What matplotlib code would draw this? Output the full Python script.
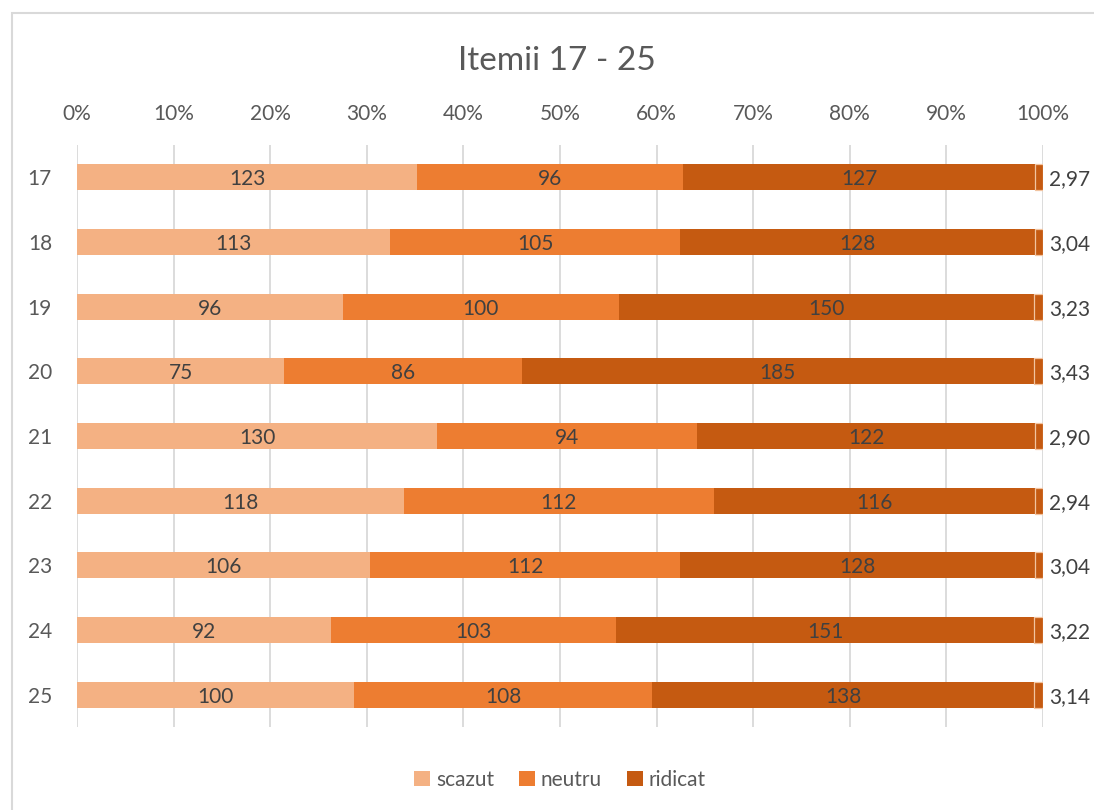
import matplotlib
matplotlib.use("Agg")
import matplotlib.pyplot as plt
from matplotlib.patches import Rectangle
import numpy as np

plt.rcParams['font.family'] = ['Lato', 'DejaVu Sans']

items = ["17", "18", "19", "20", "21", "22", "23", "24", "25"]
scazut = [123, 113, 96, 75, 130, 118, 106, 92, 100]
neutru = [96, 105, 100, 86, 94, 112, 112, 103, 108]
ridicat = [127, 128, 150, 185, 122, 116, 128, 151, 138]
medie = [2.97, 3.04, 3.23, 3.43, 2.90, 2.94, 3.04, 3.22, 3.14]
xticks = [0, 10, 20, 30, 40, 50, 60, 70, 80, 90, 100]

c_sc, c_ne, c_ri = "#F4B183", "#ED7D31", "#C55A11"
txt = "#595959"
lab = "#404040"

fig = plt.figure(figsize=(10.94, 8.10), dpi=100)
W, H = 1094, 810
ax = fig.add_axes([77 / W, 1 - 727 / H, 966 / W, 582 / H])

S = np.array(scazut, float)
N = np.array(neutru, float)
R = np.array(ridicat, float)
M = np.array(medie, float)
tot = S + N + R + M
ps, pn, pr, pm = S / tot * 100, N / tot * 100, R / tot * 100, M / tot * 100
y = np.arange(len(items))
h = 0.4

b1 = ax.barh(y, ps, height=h, color=c_sc, label="scazut", zorder=2)
b2 = ax.barh(y, pn, left=ps, height=h, color=c_ne, label="neutru", zorder=2)
b3 = ax.barh(y, pr, left=ps + pn, height=h, color=c_ri, label="ridicat", zorder=2)
b4 = ax.barh(y, pm, left=ps + pn + pr, height=h, color=c_ri, edgecolor="#F2C4A0",
             linewidth=0.9, zorder=2)

fs = 15
for i in range(len(items)):
    ax.text(ps[i] / 2, y[i] + 0.03, str(scazut[i]), ha="center", va="center", fontsize=fs, color=lab, zorder=3)
    ax.text(ps[i] + pn[i] / 2, y[i] + 0.03, str(neutru[i]), ha="center", va="center", fontsize=fs, color=lab, zorder=3)
    ax.text(ps[i] + pn[i] + pr[i] / 2, y[i] + 0.03, str(ridicat[i]), ha="center", va="center", fontsize=fs, color=lab, zorder=3)
    ax.text(100.6, y[i] + 0.03, f"{medie[i]:.2f}".replace(".", ","), ha="left", va="center",
            fontsize=fs, color=lab, zorder=3)

ax.set_xlim(0, 100)
ax.set_ylim(len(items) - 0.5, -0.5)
ax.set_yticks(y)
ax.set_yticklabels(items)
ax.set_xticks(xticks)
ax.set_xticklabels([f"{v}%" for v in xticks])
ax.xaxis.tick_top()
ax.tick_params(axis="both", length=0, labelsize=fs, colors=txt)
ax.tick_params(axis="x", pad=15)
ax.tick_params(axis="y", pad=18)
ax.grid(axis="x", color="#D9D9D9", linewidth=1.3, zorder=0)
ax.set_axisbelow(True)
for sp in ax.spines.values():
    sp.set_visible(False)

fig.text(557 / W, 1 - 61 / H, "Itemii 17 - 25", ha="center", va="center", fontsize=24, color=txt)

leg = fig.legend(handles=[b1, b2, b3], labels=["scazut", "neutru", "ridicat"],
                 loc="center", bbox_to_anchor=(560 / W, 1 - 780 / H), ncol=3, frameon=False,
                 fontsize=fs, handlelength=0.75, handleheight=0.75, handletextpad=0.3,
                 columnspacing=1.2, labelcolor=txt)

fig.add_artist(Rectangle((12 / W, -0.05), 1.2, 1 - 13 / H + 0.05, transform=fig.transFigure,
                         fill=False, edgecolor="#D9D9D9", linewidth=1.5))

fig.savefig("out.png", dpi=100)
